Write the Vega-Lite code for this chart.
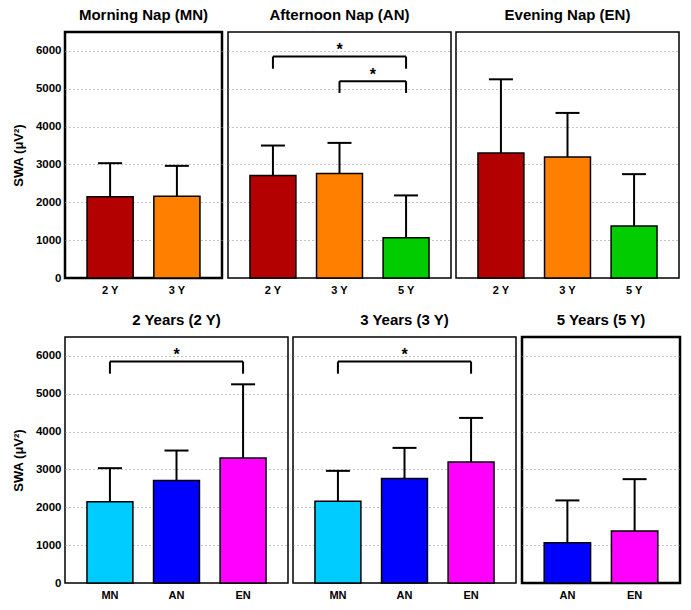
{
  "$schema": "https://vega.github.io/schema/vega-lite/v6.json",
  "background": "white",
  "padding": {"left": 11, "top": 6, "right": 5, "bottom": 5},
  "spacing": 14,
  "datasets": {
    "bars": [
      {"panel": "MN", "group": "2 Y", "swa": 2145, "upper": 3034},
      {"panel": "MN", "group": "3 Y", "swa": 2163, "upper": 2963},
      {"panel": "AN", "group": "2 Y", "swa": 2710, "upper": 3500},
      {"panel": "AN", "group": "3 Y", "swa": 2762, "upper": 3570},
      {"panel": "AN", "group": "5 Y", "swa": 1063, "upper": 2182},
      {"panel": "EN", "group": "2 Y", "swa": 3306, "upper": 5250},
      {"panel": "EN", "group": "3 Y", "swa": 3200, "upper": 4362},
      {"panel": "EN", "group": "5 Y", "swa": 1372, "upper": 2744},
      {"panel": "2Y", "group": "MN", "swa": 2145, "upper": 3034},
      {"panel": "2Y", "group": "AN", "swa": 2710, "upper": 3500},
      {"panel": "2Y", "group": "EN", "swa": 3306, "upper": 5250},
      {"panel": "3Y", "group": "MN", "swa": 2163, "upper": 2963},
      {"panel": "3Y", "group": "AN", "swa": 2762, "upper": 3570},
      {"panel": "3Y", "group": "EN", "swa": 3200, "upper": 4362},
      {"panel": "5Y", "group": "AN", "swa": 1063, "upper": 2182},
      {"panel": "5Y", "group": "EN", "swa": 1372, "upper": 2744}
    ],
    "brackets": [
      {"panel": "AN", "pair": "2-5", "from": "2 Y", "to": "5 Y", "mid": "3 Y", "top": 5850, "low": 5530, "star": 5900},
      {"panel": "AN", "pair": "3-5", "from": "3 Y", "to": "5 Y", "mid": "3 Y", "top": 5200, "low": 4890, "star": 5240},
      {"panel": "2Y", "pair": "MN-EN", "from": "MN", "to": "EN", "mid": "AN", "top": 5850, "low": 5530, "star": 5900},
      {"panel": "3Y", "pair": "MN-EN", "from": "MN", "to": "EN", "mid": "AN", "top": 5850, "low": 5530, "star": 5900}
    ]
  },
  "config": {
    "font": "Liberation Sans",
    "view": {"stroke": "black", "strokeWidth": 1.5},
    "title": {"fontSize": 15, "fontWeight": "bold", "color": "black", "anchor": "middle", "offset": 9},
    "axis": {
      "labelFont": "Liberation Sans", "labelFontSize": 11, "labelFontWeight": "bold", "labelColor": "black",
      "titleFont": "Liberation Sans", "titleFontSize": 12, "titleFontWeight": "bold", "titleColor": "black",
      "domain": false, "ticks": false
    },
    "axisX": {"grid": false, "labelAngle": 0, "labelPadding": 6},
    "axisY": {"grid": true, "gridDash": [1, 3], "gridColor": "#8a8a8a", "gridWidth": 1, "gridOpacity": {"condition": {"test": "datum.value === 0", "value": 0}, "value": 1}, "labelPadding": 4, "labelFontSize": 11.5, "titleFontSize": 13, "titlePadding": 10, "format": "d"},
    "concat": {"spacing": 3},
    "tick": {"opacity": 1}
  },
  "vconcat": [
    {
      "spacing": 3,
      "hconcat": [
        {
          "width": 157, "height": 246, "title": "Morning Nap (MN)",
          "view": {"stroke": "black", "strokeWidth": 2.5},
          "layer": [
            {"data": {"name": "bars"}, "transform": [{"filter": "datum.panel === 'MN'"}],
             "mark": {"type": "bar", "stroke": "black", "strokeWidth": 1.5},
             "encoding": {
               "x": {"field": "group", "type": "nominal", "title": null, "scale": {"domain": ["2 Y", "3 Y"], "paddingInner": 0.31, "paddingOuter": 0.33}},
               "y": {"field": "swa", "type": "quantitative", "title": "SWA (μV²)", "scale": {"domain": [0, 6500], "nice": false}, "axis": {"values": [0, 1000, 2000, 3000, 4000, 5000, 6000]}},
               "color": {"field": "group", "type": "nominal", "legend": null, "scale": {"domain": ["2 Y", "3 Y", "5 Y", "MN", "AN", "EN"], "range": ["#B30000", "#FF8000", "#00CC00", "#00CCFF", "#0000FF", "#FF00FF"]}}
             }},
            {"data": {"name": "bars"}, "transform": [{"filter": "datum.panel === 'MN'"}],
             "mark": {"type": "rule", "color": "black", "strokeWidth": 2},
             "encoding": {"x": {"field": "group", "type": "nominal"}, "y": {"field": "swa", "type": "quantitative"}, "y2": {"field": "upper"}}},
            {"data": {"name": "bars"}, "transform": [{"filter": "datum.panel === 'MN'"}],
             "mark": {"type": "tick", "color": "black", "size": 24, "thickness": 2},
             "encoding": {"x": {"field": "group", "type": "nominal"}, "y": {"field": "upper", "type": "quantitative"}}}
          ]
        },
        {
          "width": 223, "height": 246, "title": "Afternoon Nap (AN)",
          "layer": [
            {"data": {"name": "bars"}, "transform": [{"filter": "datum.panel === 'AN'"}],
             "mark": {"type": "bar", "stroke": "black", "strokeWidth": 1.5},
             "encoding": {
               "x": {"field": "group", "type": "nominal", "title": null, "scale": {"domain": ["2 Y", "3 Y", "5 Y"], "paddingInner": 0.31, "paddingOuter": 0.33}},
               "y": {"field": "swa", "type": "quantitative", "title": null, "scale": {"domain": [0, 6500], "nice": false}, "axis": {"values": [0, 1000, 2000, 3000, 4000, 5000, 6000], "labels": false}},
               "color": {"field": "group", "type": "nominal", "legend": null, "scale": {"domain": ["2 Y", "3 Y", "5 Y", "MN", "AN", "EN"], "range": ["#B30000", "#FF8000", "#00CC00", "#00CCFF", "#0000FF", "#FF00FF"]}}
             }},
            {"data": {"name": "bars"}, "transform": [{"filter": "datum.panel === 'AN'"}],
             "mark": {"type": "rule", "color": "black", "strokeWidth": 2},
             "encoding": {"x": {"field": "group", "type": "nominal"}, "y": {"field": "swa", "type": "quantitative"}, "y2": {"field": "upper"}}},
            {"data": {"name": "bars"}, "transform": [{"filter": "datum.panel === 'AN'"}],
             "mark": {"type": "tick", "color": "black", "size": 24, "thickness": 2},
             "encoding": {"x": {"field": "group", "type": "nominal"}, "y": {"field": "upper", "type": "quantitative"}}},
            {"data": {"name": "brackets"}, "transform": [{"filter": "datum.panel === 'AN'"}],
             "mark": {"type": "rule", "color": "black", "strokeWidth": 2},
             "encoding": {"x": {"field": "from", "type": "nominal", "bandPosition": 0.5}, "x2": {"field": "to", "bandPosition": 0.5}, "y": {"field": "top", "type": "quantitative"}}},
            {"data": {"name": "brackets"}, "transform": [{"filter": "datum.panel === 'AN'"}],
             "mark": {"type": "rule", "color": "black", "strokeWidth": 2},
             "encoding": {"x": {"field": "from", "type": "nominal"}, "y": {"field": "top", "type": "quantitative"}, "y2": {"field": "low"}}},
            {"data": {"name": "brackets"}, "transform": [{"filter": "datum.panel === 'AN'"}],
             "mark": {"type": "rule", "color": "black", "strokeWidth": 2},
             "encoding": {"x": {"field": "to", "type": "nominal"}, "y": {"field": "top", "type": "quantitative"}, "y2": {"field": "low"}}},
            {"data": {"name": "brackets"}, "transform": [{"filter": "datum.panel === 'AN' && datum.pair === '2-5'"}],
             "mark": {"type": "text", "text": "*", "fontSize": 16, "fontWeight": "bold", "baseline": "alphabetic", "color": "black"},
             "encoding": {"x": {"field": "mid", "type": "nominal"}, "y": {"field": "star", "type": "quantitative"}}},
            {"data": {"name": "brackets"}, "transform": [{"filter": "datum.panel === 'AN' && datum.pair === '3-5'"}],
             "mark": {"type": "text", "text": "*", "fontSize": 16, "fontWeight": "bold", "baseline": "alphabetic", "color": "black"},
             "encoding": {"x": {"field": "mid", "type": "nominal", "bandPosition": 1.225}, "y": {"field": "star", "type": "quantitative"}}}
          ]
        },
        {
          "width": 223, "height": 246, "title": "Evening Nap (EN)",
          "layer": [
            {"data": {"name": "bars"}, "transform": [{"filter": "datum.panel === 'EN'"}],
             "mark": {"type": "bar", "stroke": "black", "strokeWidth": 1.5},
             "encoding": {
               "x": {"field": "group", "type": "nominal", "title": null, "scale": {"domain": ["2 Y", "3 Y", "5 Y"], "paddingInner": 0.31, "paddingOuter": 0.33}},
               "y": {"field": "swa", "type": "quantitative", "title": null, "scale": {"domain": [0, 6500], "nice": false}, "axis": {"values": [0, 1000, 2000, 3000, 4000, 5000, 6000], "labels": false}},
               "color": {"field": "group", "type": "nominal", "legend": null, "scale": {"domain": ["2 Y", "3 Y", "5 Y", "MN", "AN", "EN"], "range": ["#B30000", "#FF8000", "#00CC00", "#00CCFF", "#0000FF", "#FF00FF"]}}
             }},
            {"data": {"name": "bars"}, "transform": [{"filter": "datum.panel === 'EN'"}],
             "mark": {"type": "rule", "color": "black", "strokeWidth": 2},
             "encoding": {"x": {"field": "group", "type": "nominal"}, "y": {"field": "swa", "type": "quantitative"}, "y2": {"field": "upper"}}},
            {"data": {"name": "bars"}, "transform": [{"filter": "datum.panel === 'EN'"}],
             "mark": {"type": "tick", "color": "black", "size": 24, "thickness": 2},
             "encoding": {"x": {"field": "group", "type": "nominal"}, "y": {"field": "upper", "type": "quantitative"}}}
          ]
        }
      ]
    },
    {
      "spacing": 3,
      "hconcat": [
        {
          "width": 223, "height": 246, "title": "2 Years (2 Y)",
          "layer": [
            {"data": {"name": "bars"}, "transform": [{"filter": "datum.panel === '2Y'"}],
             "mark": {"type": "bar", "stroke": "black", "strokeWidth": 1.5},
             "encoding": {
               "x": {"field": "group", "type": "nominal", "title": null, "scale": {"domain": ["MN", "AN", "EN"], "paddingInner": 0.31, "paddingOuter": 0.33}},
               "y": {"field": "swa", "type": "quantitative", "title": "SWA (μV²)", "scale": {"domain": [0, 6500], "nice": false}, "axis": {"values": [0, 1000, 2000, 3000, 4000, 5000, 6000]}},
               "color": {"field": "group", "type": "nominal", "legend": null, "scale": {"domain": ["2 Y", "3 Y", "5 Y", "MN", "AN", "EN"], "range": ["#B30000", "#FF8000", "#00CC00", "#00CCFF", "#0000FF", "#FF00FF"]}}
             }},
            {"data": {"name": "bars"}, "transform": [{"filter": "datum.panel === '2Y'"}],
             "mark": {"type": "rule", "color": "black", "strokeWidth": 2},
             "encoding": {"x": {"field": "group", "type": "nominal"}, "y": {"field": "swa", "type": "quantitative"}, "y2": {"field": "upper"}}},
            {"data": {"name": "bars"}, "transform": [{"filter": "datum.panel === '2Y'"}],
             "mark": {"type": "tick", "color": "black", "size": 24, "thickness": 2},
             "encoding": {"x": {"field": "group", "type": "nominal"}, "y": {"field": "upper", "type": "quantitative"}}},
            {"data": {"name": "brackets"}, "transform": [{"filter": "datum.panel === '2Y'"}],
             "mark": {"type": "rule", "color": "black", "strokeWidth": 2},
             "encoding": {"x": {"field": "from", "type": "nominal", "bandPosition": 0.5}, "x2": {"field": "to", "bandPosition": 0.5}, "y": {"field": "top", "type": "quantitative"}}},
            {"data": {"name": "brackets"}, "transform": [{"filter": "datum.panel === '2Y'"}],
             "mark": {"type": "rule", "color": "black", "strokeWidth": 2},
             "encoding": {"x": {"field": "from", "type": "nominal"}, "y": {"field": "top", "type": "quantitative"}, "y2": {"field": "low"}}},
            {"data": {"name": "brackets"}, "transform": [{"filter": "datum.panel === '2Y'"}],
             "mark": {"type": "rule", "color": "black", "strokeWidth": 2},
             "encoding": {"x": {"field": "to", "type": "nominal"}, "y": {"field": "top", "type": "quantitative"}, "y2": {"field": "low"}}},
            {"data": {"name": "brackets"}, "transform": [{"filter": "datum.panel === '2Y'"}],
             "mark": {"type": "text", "text": "*", "fontSize": 16, "fontWeight": "bold", "baseline": "alphabetic", "color": "black"},
             "encoding": {"x": {"field": "mid", "type": "nominal"}, "y": {"field": "star", "type": "quantitative"}}}
          ]
        },
        {
          "width": 223, "height": 246, "title": "3 Years (3 Y)",
          "layer": [
            {"data": {"name": "bars"}, "transform": [{"filter": "datum.panel === '3Y'"}],
             "mark": {"type": "bar", "stroke": "black", "strokeWidth": 1.5},
             "encoding": {
               "x": {"field": "group", "type": "nominal", "title": null, "scale": {"domain": ["MN", "AN", "EN"], "paddingInner": 0.31, "paddingOuter": 0.33}},
               "y": {"field": "swa", "type": "quantitative", "title": null, "scale": {"domain": [0, 6500], "nice": false}, "axis": {"values": [0, 1000, 2000, 3000, 4000, 5000, 6000], "labels": false}},
               "color": {"field": "group", "type": "nominal", "legend": null, "scale": {"domain": ["2 Y", "3 Y", "5 Y", "MN", "AN", "EN"], "range": ["#B30000", "#FF8000", "#00CC00", "#00CCFF", "#0000FF", "#FF00FF"]}}
             }},
            {"data": {"name": "bars"}, "transform": [{"filter": "datum.panel === '3Y'"}],
             "mark": {"type": "rule", "color": "black", "strokeWidth": 2},
             "encoding": {"x": {"field": "group", "type": "nominal"}, "y": {"field": "swa", "type": "quantitative"}, "y2": {"field": "upper"}}},
            {"data": {"name": "bars"}, "transform": [{"filter": "datum.panel === '3Y'"}],
             "mark": {"type": "tick", "color": "black", "size": 24, "thickness": 2},
             "encoding": {"x": {"field": "group", "type": "nominal"}, "y": {"field": "upper", "type": "quantitative"}}},
            {"data": {"name": "brackets"}, "transform": [{"filter": "datum.panel === '3Y'"}],
             "mark": {"type": "rule", "color": "black", "strokeWidth": 2},
             "encoding": {"x": {"field": "from", "type": "nominal", "bandPosition": 0.5}, "x2": {"field": "to", "bandPosition": 0.5}, "y": {"field": "top", "type": "quantitative"}}},
            {"data": {"name": "brackets"}, "transform": [{"filter": "datum.panel === '3Y'"}],
             "mark": {"type": "rule", "color": "black", "strokeWidth": 2},
             "encoding": {"x": {"field": "from", "type": "nominal"}, "y": {"field": "top", "type": "quantitative"}, "y2": {"field": "low"}}},
            {"data": {"name": "brackets"}, "transform": [{"filter": "datum.panel === '3Y'"}],
             "mark": {"type": "rule", "color": "black", "strokeWidth": 2},
             "encoding": {"x": {"field": "to", "type": "nominal"}, "y": {"field": "top", "type": "quantitative"}, "y2": {"field": "low"}}},
            {"data": {"name": "brackets"}, "transform": [{"filter": "datum.panel === '3Y'"}],
             "mark": {"type": "text", "text": "*", "fontSize": 16, "fontWeight": "bold", "baseline": "alphabetic", "color": "black"},
             "encoding": {"x": {"field": "mid", "type": "nominal"}, "y": {"field": "star", "type": "quantitative"}}}
          ]
        },
        {
          "width": 158, "height": 246, "title": "5 Years (5 Y)",
          "view": {"stroke": "black", "strokeWidth": 2.5},
          "layer": [
            {"data": {"name": "bars"}, "transform": [{"filter": "datum.panel === '5Y'"}],
             "mark": {"type": "bar", "stroke": "black", "strokeWidth": 1.5},
             "encoding": {
               "x": {"field": "group", "type": "nominal", "title": null, "scale": {"domain": ["AN", "EN"], "paddingInner": 0.31, "paddingOuter": 0.33}},
               "y": {"field": "swa", "type": "quantitative", "title": null, "scale": {"domain": [0, 6500], "nice": false}, "axis": {"values": [0, 1000, 2000, 3000, 4000, 5000, 6000], "labels": false}},
               "color": {"field": "group", "type": "nominal", "legend": null, "scale": {"domain": ["2 Y", "3 Y", "5 Y", "MN", "AN", "EN"], "range": ["#B30000", "#FF8000", "#00CC00", "#00CCFF", "#0000FF", "#FF00FF"]}}
             }},
            {"data": {"name": "bars"}, "transform": [{"filter": "datum.panel === '5Y'"}],
             "mark": {"type": "rule", "color": "black", "strokeWidth": 2},
             "encoding": {"x": {"field": "group", "type": "nominal"}, "y": {"field": "swa", "type": "quantitative"}, "y2": {"field": "upper"}}},
            {"data": {"name": "bars"}, "transform": [{"filter": "datum.panel === '5Y'"}],
             "mark": {"type": "tick", "color": "black", "size": 24, "thickness": 2},
             "encoding": {"x": {"field": "group", "type": "nominal"}, "y": {"field": "upper", "type": "quantitative"}}}
          ]
        }
      ]
    }
  ]
}
